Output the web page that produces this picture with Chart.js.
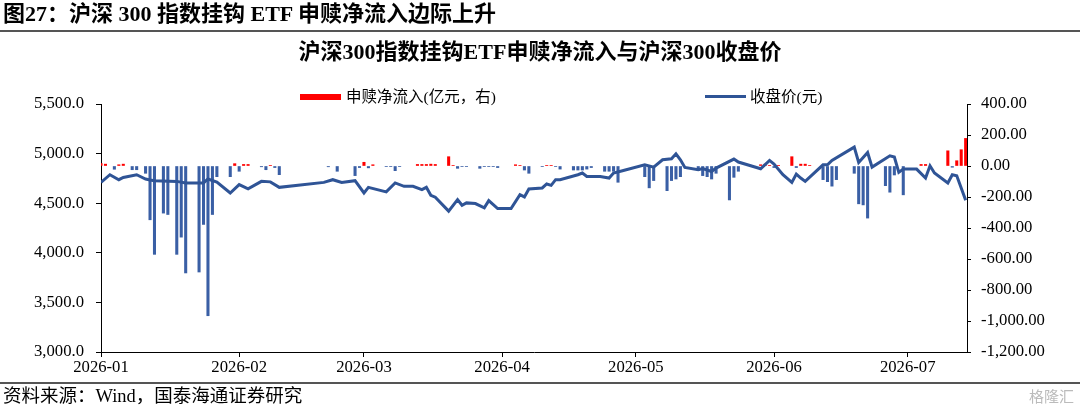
<!DOCTYPE html>
<html>
<head>
<meta charset="utf-8">
<script src="https://cdn.jsdelivr.net/npm/chart.js@4.4.0/dist/chart.umd.min.js"></script>
<style>
  body { margin: 0; background: #fff; }
  #wrap { position: relative; width: 1080px; height: 407px; overflow: hidden;
          font-family: "Liberation Serif", "Noto Sans CJK SC", serif; color: #000; }
  #chart { position: absolute; left: 0; top: 0; }
  .head { position: absolute; left: 3px; top: 0; font-size: 22px; line-height: 27px; font-weight: bold; white-space: nowrap; }
  .rule { position: absolute; left: 0; width: 1080px; background: #555; }
  .title { position: absolute; left: 0; width: 1080px; top: 39px; text-align: center;
           font-size: 22px; line-height: 26px; font-weight: bold; white-space: nowrap; }
  .lg { position: absolute; top: 87px; font-size: 15.5px; line-height: 19px; white-space: nowrap; }
  .sw { position: absolute; }
  .foot { position: absolute; left: 3px; top: 386px; font-size: 18.5px; line-height: 21px; white-space: nowrap; }
  .mark { position: absolute; right: 6px; top: 387px; font-size: 15px; line-height: 18px; color: #bbb; font-family: "Noto Sans CJK SC", sans-serif; }
</style>
</head>
<body>
<div id="wrap">
  <canvas id="chart" width="1080" height="407"></canvas>
  <div class="head">图27：沪深 300 指数挂钩 ETF 申赎净流入边际上升</div>
  <div class="rule" style="top:30px;height:2px"></div>
  <div class="title">沪深300指数挂钩ETF申赎净流入与沪深300收盘价</div>
  <div class="sw" style="left:300px;top:94px;width:41px;height:6px;background:#ff0000"></div>
  <div class="lg" style="left:346px">申赎净流入(亿元，右)</div>
  <div class="sw" style="left:705px;top:95px;width:41px;height:3px;background:#2f5496"></div>
  <div class="lg" style="left:750px">收盘价(元)</div>
  <div class="rule" style="top:382px;height:2px"></div>
  <div class="foot">资料来源：Wind，国泰海通证券研究</div>
  <div class="mark">格隆汇</div>
</div>
<script>
// month ticks on the x axis
const monthTicks = ['01-01', '02-01', '03-01', '04-01', '05-01', '06-01', '07-01']
const monthLabels = ['2026-01', '2026-02', '2026-03', '2026-04', '2026-05', '2026-06', '2026-07']

// CSI 300 close (yuan), left axis
const closeDates = ['01-01','01-03','01-05','01-06','01-09','01-11','01-12','01-13','01-18','01-20',
  '01-24','01-25','01-27','01-30','02-01','02-03','02-06','02-08','02-10','02-20',
  '02-22','02-24','02-27','03-01','03-02','03-06','03-08','03-10','03-12','03-14',
  '03-15','03-16','03-17','03-20','03-22','03-23','03-24','03-26','03-28','03-29',
  '03-31','04-03','04-05','04-06','04-07','04-10','04-11','04-12','04-13','04-14',
  '04-18','04-19','04-20','04-23','04-25','04-26','04-28','05-03','05-05','05-07',
  '05-09','05-10','05-11','05-12','05-15','05-16','05-18','05-19','05-23','05-24',
  '05-29','05-31','06-01','06-03','06-05','06-06','06-07','06-08','06-12','06-13',
  '06-14','06-19','06-20','06-22','06-23','06-27','06-28','06-29','06-30','07-03',
  '07-05','07-06','07-07','07-10','07-11','07-12','07-14']
const closeValues = [4710,4787,4737,4760,4787,4744,4734,4727,4720,4704,
  4704,4744,4714,4603,4687,4644,4720,4715,4660,4710,
  4737,4710,4727,4603,4660,4614,4704,4670,4670,4637,
  4660,4580,4560,4420,4536,4479,4503,4496,4453,4526,
  4446,4446,4586,4563,4644,4654,4694,4680,4737,4737,
  4787,4804,4770,4770,4754,4804,4827,4887,4864,4938,
  4948,4998,4938,4861,4837,4850,4820,4854,4945,4915,
  4847,4931,4895,4787,4710,4794,4754,4720,4887,4887,
  4931,5065,4911,5011,4864,4978,4965,4811,4844,4844,
  4754,4877,4804,4704,4787,4777,4530]

// net creation/redemption flow (100m yuan), right axis
const flowDates = ['01-01','01-02','01-04','01-05','01-06','01-08','01-09','01-11','01-12','01-13',
  '01-15','01-16','01-18','01-19','01-20','01-23','01-24','01-25','01-26','01-27',
  '01-30','01-31','02-01','02-02','02-03','02-06','02-07','02-08','02-09','02-10',
  '02-21','02-23','02-27','02-28','03-01','03-02','03-03','03-06','03-07','03-08',
  '03-09','03-13','03-14','03-15','03-16','03-17','03-20','03-21','03-22','03-23',
  '03-24','03-27','03-28','03-29','03-30','03-31','04-04','04-05','04-06','04-07',
  '04-10','04-11','04-12','04-13','04-14','04-17','04-18','04-19','04-20','04-21',
  '04-24','04-25','04-26','04-27','05-03','05-04','05-05','05-08','05-09','05-10',
  '05-11','05-15','05-16','05-17','05-18','05-19','05-22','05-23','05-24','05-29',
  '05-30','05-31','06-01','06-02','06-05','06-06','06-07','06-08','06-09','06-12',
  '06-13','06-14','06-15','06-19','06-20','06-21','06-22','06-26','06-27','06-28',
  '06-30','07-04','07-05','07-10','07-11','07-12','07-13','07-14']
const flowValues = [15,12,-21,8,12,-24,-24,-47,-347,-570,
  -304,-313,-570,-459,-690,-684,-377,-966,-313,-69,
  -69,15,-34,10,10,-5,-24,4,-10,-56,
  -5,-34,-62,-10,24,-12,8,-4,-4,-30,
  -4,10,10,10,12,10,60,4,-15,-4,
  -4,-15,-4,-4,-4,-10,8,4,-26,-47,
  -4,4,4,-4,-20,-26,-26,-26,-20,-10,
  -34,-34,-34,-105,-69,-141,-94,-159,-94,-84,
  -69,-30,-62,-69,-84,-47,-219,-73,-34,8,
  12,4,-10,4,60,-10,12,12,4,-88,
  -101,-130,-88,-47,-244,-251,-336,-127,-169,-58,
  -186,10,10,98,-8,34,105,178]

const LINE = '#2f5496'
const RED = '#ff0000'
const BLUE = '#3a5fa5'
const tickFont = { family: '"Liberation Serif", "Noto Sans CJK SC", serif', size: 16.7 }

// day number counted from 2026-01-01
function dayOf(md) {
  const [m, d] = md.split('-').map(Number)
  return (Date.UTC(2026, m - 1, d) - Date.UTC(2026, 0, 1)) / 864e5
}

const fmt = (v, n) => v.toLocaleString('en-US', { minimumFractionDigits: n, maximumFractionDigits: n })

const ctx = document.getElementById('chart')

new Chart(ctx, {
  type: 'bar',
  data: {
    datasets: [
      {
        type: 'line',
        label: '收盘价(元)',
        data: closeDates.map((d, i) => ({ x: dayOf(d), y: closeValues[i] })),
        yAxisID: 'y',
        borderColor: LINE,
        borderWidth: 3,
        pointRadius: 0,
        tension: 0,
        order: 0
      },
      {
        label: '申赎净流入(亿元，右)',
        data: flowDates.map((d, i) => ({ x: dayOf(d), y: flowValues[i] })),
        yAxisID: 'y1',
        backgroundColor: flowValues.map(v => v >= 0 ? RED : BLUE),
        barThickness: 2.4,
        order: 1
      }
    ]
  },
  options: {
    responsive: false,
    animation: false,
    layout: { padding: { top: 104, left: 0, right: 0, bottom: 0 } },
    plugins: { legend: { display: false }, tooltip: { enabled: false } },
    scales: {
      x: {
        type: 'linear',
        min: 0,
        max: 194.3,
        offset: false,
        grid: { drawOnChartArea: false, offset: false, tickLength: 5, color: '#000' },
        border: { color: '#000', width: 1 },
        afterBuildTicks: s => { s.ticks = monthTicks.map(m => ({ value: dayOf(m) })) },
        ticks: {
          autoSkip: false, maxRotation: 0, padding: 1, color: '#000', font: tickFont,
          callback: (v, i) => monthLabels[i]
        },
        afterFit: s => { s.height = 55 }
      },
      y: {
        position: 'left',
        min: 3000,
        max: 5500,
        grid: { drawOnChartArea: false, tickLength: 5, color: '#000' },
        border: { color: '#000', width: 1 },
        ticks: { stepSize: 500, padding: 12, color: '#000', font: tickFont, callback: v => fmt(v, 1) },
        afterFit: s => { s.width = 101 }
      },
      y1: {
        position: 'right',
        min: -1200,
        max: 400,
        grid: { drawOnChartArea: false, tickLength: 4, color: '#000' },
        border: { color: '#000', width: 1 },
        ticks: { stepSize: 200, padding: 10, color: '#000', font: tickFont, callback: v => fmt(v, 2) },
        afterFit: s => { s.width = 113 }
      }
    }
  }
})
</script>
</body>
</html>
